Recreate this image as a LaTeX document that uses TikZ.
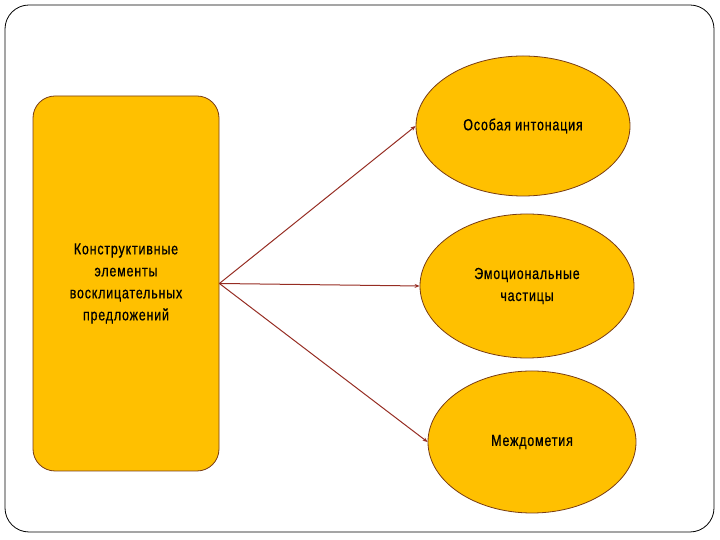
\documentclass[tikz,border=0pt]{standalone}
\usepackage{fontspec}
\setmainfont[FakeStretch=0.78,LetterSpace=5,FakeBold=0.6]{Liberation Sans}
\usetikzlibrary{arrows.meta}
\definecolor{amber}{RGB}{255,192,0}
\definecolor{rim}{RGB}{120,60,20}
\definecolor{ray}{RGB}{150,45,35}
\tikzset{
  elem/.style={draw=rim,fill=amber,line width=0.8pt,rounded corners=22pt,
    minimum width=186pt,minimum height=375pt,align=center,font=\fontsize{16}{22}\selectfont},
  oval/.style={draw=rim,fill=amber,line width=0.8pt,ellipse,inner sep=0pt,
    align=center,font=\fontsize{16}{22}\selectfont},
  ray/.style={draw=ray,line width=1pt,-{Stealth[length=5pt,width=4pt]}}
}
\usetikzlibrary{shapes.geometric}
\begin{document}
\begin{tikzpicture}[x=1pt,y=1pt]
\useasboundingbox (0,0) rectangle (720,540);
\draw[line width=0.8pt,rounded corners=24pt] (5,8) rectangle (714,535);
% left block
\node[elem] (elems) at (126,256.5) {Конструктивные\\элементы\\восклицательных\\предложений};
% three ovals
\node[oval,minimum width=214pt,minimum height=140pt] (inton) at (523,414) {Особая интонация};
\node[oval,minimum width=214pt,minimum height=144pt] (chast) at (527,254) {Эмоциональные\\частицы};
\node[oval,minimum width=208pt,minimum height=142pt] (mezhd) at (532,98) {Междометия};
% rays
\draw[ray] (elems.east) -- (inton.west);
\draw[ray] (elems.east) -- (chast.west);
\draw[ray] (elems.east) -- (mezhd.west);
\end{tikzpicture}
\end{document}
